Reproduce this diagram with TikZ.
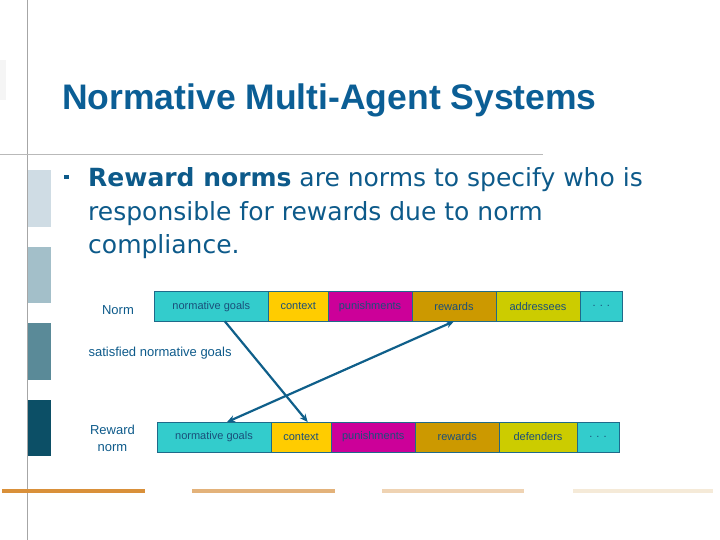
\documentclass[tikz,border=0pt]{standalone}
\usepackage{fontspec}
\setmainfont{DejaVu Sans}
\newfontfamily\titlefont{Liberation Sans}
\newfontfamily\boxfont{Liberation Sans}
\usetikzlibrary{arrows.meta}
\definecolor{titleblue}{HTML}{0B5E95}
\definecolor{textblue}{HTML}{0D5A8A}
\definecolor{boxtext}{HTML}{1A4F7A}
\definecolor{edgeblue}{HTML}{1F6A8A}
\definecolor{arrowblue}{HTML}{0F5F8A}
\definecolor{tealfill}{HTML}{33CCCC}
\definecolor{ctxfill}{HTML}{FFCC00}
\definecolor{punfill}{HTML}{CC0099}
\definecolor{rewfill}{HTML}{CC9900}
\definecolor{addfill}{HTML}{CCCC00}
\tikzset{
  cell/.style={draw=edgeblue,line width=0.8pt,minimum height=30pt,inner sep=0pt,outer sep=0pt,
    text=boxtext,font=\boxfont\fontsize{11}{13}\selectfont},
  rowlabel/.style={text=textblue,align=center,font=\boxfont\fontsize{13}{17}\selectfont},
  link/.style={draw=arrowblue,line width=2.2pt,-{Stealth[length=8pt,width=7pt]}}
}
\begin{document}
\begin{tikzpicture}[x=1pt,y=-1pt]
\useasboundingbox (0,0) rectangle (720,540);
% frame lines
\draw[gray!70,line width=0.6pt] (27.5,0) -- (27.5,540);
\draw[gray!55,line width=0.8pt] (0,154) -- (543,154);
\fill[gray!8] (0,60) rectangle (6,100);
% side bars
\fill[fill={rgb,255:red,207;green,220;blue,228}] (27.5,170) rectangle (50.5,227);
\fill[fill={rgb,255:red,163;green,191;blue,201}] (27.5,247) rectangle (50.5,303);
\fill[fill={rgb,255:red,90;green,138;blue,152}] (27.5,323) rectangle (50.5,380);
\fill[fill={rgb,255:red,12;green,79;blue,102}] (27.5,400) rectangle (50.5,456);
% bottom stripes
\fill[fill={rgb,255:red,217;green,144;blue,58}] (2,489) rectangle (145,493);
\fill[fill={rgb,255:red,227;green,178;blue,122}] (192,489) rectangle (335,493);
\fill[fill={rgb,255:red,239;green,211;blue,179}] (382,489) rectangle (524,493);
\fill[fill={rgb,255:red,245;green,234;blue,216}] (573,489) rectangle (713,493);
% title and text
\node[anchor=base west,inner sep=0pt,text=titleblue,font=\titlefont\bfseries\fontsize{35.5}{40}\selectfont] (title) at (62,110) {Normative Multi-Agent Systems};
\fill[textblue] (64,175) rectangle (68.5,179.5);
\node[anchor=base west,inner sep=0pt,align=left,text=textblue,font=\fontsize{25}{33.5}\selectfont] (body) at (88,254)
  {\textbf{Reward norms} are norms to specify who is\\responsible for rewards due to norm\\compliance.};
% norm row
\node[rowlabel] (normlbl) at (118,310) {Norm};
\node[cell,fill=tealfill,minimum width=114.6pt] (ng1) at (211.3,306.3) {normative goals};
\node[cell,fill=ctxfill,minimum width=59.4pt] (ctx1) at (298.3,306.3) {context};
\node[cell,fill=punfill,minimum width=84pt] (pun1) at (370,306.3) {punishments};
\node[cell,fill=rewfill,minimum width=84pt] (rew1) at (454,306.3) {rewards};
\node[cell,fill=addfill,minimum width=84pt] (add1) at (538,306.3) {addressees};
\node[cell,fill=tealfill,minimum width=42.6pt] (dots1) at (601.3,306.3) {. . .};
\node[rowlabel,anchor=west] (satlbl) at (85,353) {satisfied normative goals};
% reward norm row
\node[rowlabel] (rnormlbl) at (112.5,438.5) {Reward\\norm};
\node[cell,fill=tealfill,minimum width=114pt] (ng2) at (214,437) {normative goals};
\node[cell,fill=ctxfill,minimum width=60pt] (ctx2) at (301,437) {context};
\node[cell,fill=punfill,minimum width=84.5pt] (pun2) at (373.25,437) {punishments};
\node[cell,fill=rewfill,minimum width=83.5pt] (rew2) at (457.25,437) {rewards};
\node[cell,fill=addfill,minimum width=78pt] (def2) at (538,437) {defenders};
\node[cell,fill=tealfill,minimum width=42pt] (dots2) at (598,437) {. . .};
% links
\draw[link] (ng1.-48) -- (ctx2.66);
\draw[link,{Stealth[length=8pt,width=7pt]}-{Stealth[length=8pt,width=7pt]}] (ng2.49) -- (rew1.south);
\end{tikzpicture}
\end{document}
